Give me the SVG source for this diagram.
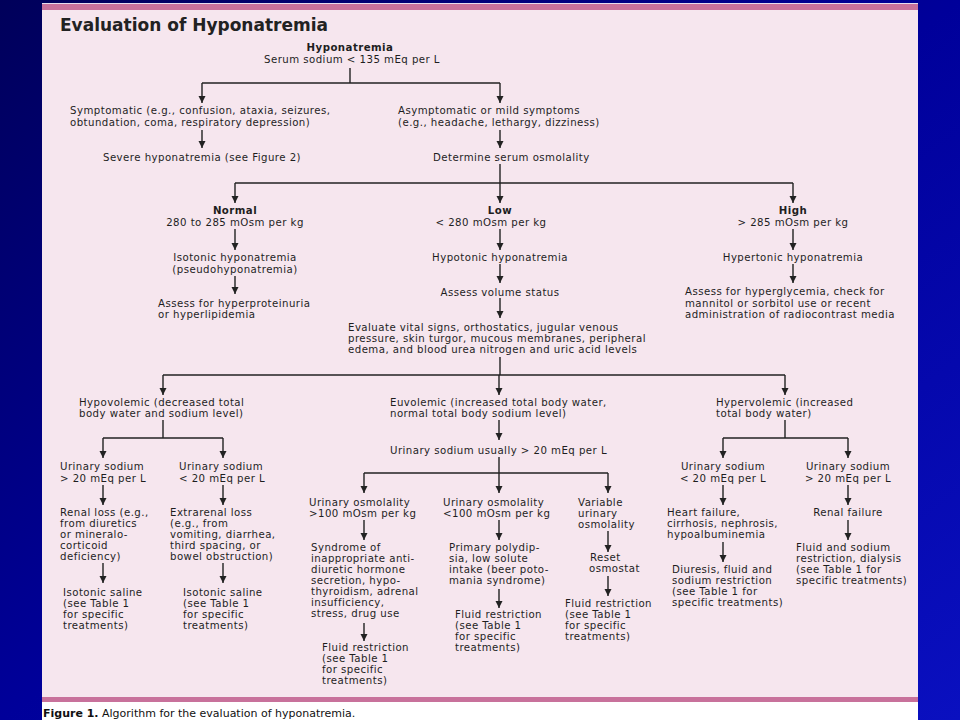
<svg xmlns="http://www.w3.org/2000/svg" width="960" height="720" viewBox="0 0 960 720">
<defs>
<linearGradient id="bg" x1="0" y1="0" x2="1" y2="1">
<stop offset="0" stop-color="#00005a"/>
<stop offset="0.5" stop-color="#00009a"/>
<stop offset="1" stop-color="#0a10c0"/>
</linearGradient>
<marker id="ah" markerUnits="userSpaceOnUse" markerWidth="8" markerHeight="8" refX="7" refY="4" orient="auto">
<path d="M0,0.5 L7,4 L0,7.5 z" fill="#222"/>
</marker>
<style>
text{font-family:"DejaVu Sans","Liberation Sans",sans-serif;font-size:10.2px;letter-spacing:0.45px;fill:#1e1e1e}
.b{font-weight:bold}
.c{text-anchor:middle}
.title{font-size:17px;font-weight:bold;letter-spacing:0;fill:#222}
.cap{font-size:11px;letter-spacing:0;fill:#111}
#connectors line{stroke:#222;stroke-width:1.4;fill:none}
.a{marker-end:url(#ah)}
</style>
</defs>
<rect x="0" y="0" width="960" height="720" fill="url(#bg)"/>
<rect x="42" y="3" width="876" height="700" fill="#f6e6ee"/>
<rect x="42" y="3" width="876" height="1" fill="#e6dcee"/>
<rect x="42" y="4" width="876" height="6" fill="#c8719b"/>
<rect x="42" y="697" width="876" height="5" fill="#c8719b"/>
<rect x="42" y="702" width="876" height="18" fill="#ffffff"/>

<text class="title" x="60" y="31">Evaluation of Hyponatremia</text>

<g id="connectors">
<line x1="350" y1="68" x2="350" y2="83"/>
<line x1="202" y1="83" x2="500" y2="83"/>
<line class="a" x1="202" y1="83" x2="202" y2="103"/>
<line class="a" x1="500" y1="83" x2="500" y2="103"/>
<line class="a" x1="202" y1="130" x2="202" y2="148"/>
<line class="a" x1="500" y1="130" x2="500" y2="148"/>
<line x1="500" y1="164" x2="500" y2="183"/>
<line x1="235" y1="183" x2="793" y2="183"/>
<line class="a" x1="235" y1="183" x2="235" y2="203"/>
<line class="a" x1="500" y1="183" x2="500" y2="203"/>
<line class="a" x1="793" y1="183" x2="793" y2="203"/>
<line class="a" x1="235" y1="229" x2="235" y2="250"/>
<line class="a" x1="235" y1="276" x2="235" y2="294"/>
<line class="a" x1="500" y1="229" x2="500" y2="250"/>
<line class="a" x1="500" y1="264" x2="500" y2="283"/>
<line class="a" x1="500" y1="298" x2="500" y2="318"/>
<line class="a" x1="793" y1="229" x2="793" y2="250"/>
<line class="a" x1="793" y1="264" x2="793" y2="283"/>
<line x1="500" y1="357" x2="500" y2="375"/>
<line x1="163" y1="375" x2="785" y2="375"/>
<line class="a" x1="163" y1="375" x2="163" y2="395"/>
<line class="a" x1="499" y1="375" x2="499" y2="395"/>
<line class="a" x1="785" y1="375" x2="785" y2="395"/>
<line x1="163" y1="420" x2="163" y2="438"/>
<line x1="103" y1="438" x2="223" y2="438"/>
<line class="a" x1="103" y1="438" x2="103" y2="458"/>
<line class="a" x1="223" y1="438" x2="223" y2="458"/>
<line class="a" x1="103" y1="485" x2="103" y2="505"/>
<line class="a" x1="223" y1="485" x2="223" y2="505"/>
<line class="a" x1="103" y1="563" x2="103" y2="583"/>
<line class="a" x1="223" y1="563" x2="223" y2="583"/>
<line class="a" x1="499" y1="420" x2="499" y2="440"/>
<line x1="499" y1="457" x2="499" y2="473"/>
<line x1="364" y1="473" x2="608" y2="473"/>
<line class="a" x1="364" y1="473" x2="364" y2="493"/>
<line class="a" x1="499" y1="473" x2="499" y2="493"/>
<line class="a" x1="608" y1="473" x2="608" y2="493"/>
<line class="a" x1="364" y1="520" x2="364" y2="540"/>
<line class="a" x1="499" y1="520" x2="499" y2="540"/>
<line class="a" x1="608" y1="531" x2="608" y2="552"/>
<line class="a" x1="364" y1="623" x2="364" y2="641"/>
<line class="a" x1="499" y1="589" x2="499" y2="608"/>
<line class="a" x1="608" y1="576" x2="608" y2="596"/>
<line x1="785" y1="420" x2="785" y2="438"/>
<line x1="723" y1="438" x2="848" y2="438"/>
<line class="a" x1="723" y1="438" x2="723" y2="458"/>
<line class="a" x1="848" y1="438" x2="848" y2="458"/>
<line class="a" x1="723" y1="485" x2="723" y2="505"/>
<line class="a" x1="848" y1="485" x2="848" y2="505"/>
<line class="a" x1="848" y1="520" x2="848" y2="540"/>
<line class="a" x1="723" y1="542" x2="723" y2="562"/>
</g>

<g id="hyponatremia"><text class="b c" x="350" y="51">Hyponatremia</text><text class="c" x="352" y="63">Serum sodium &lt; 135 mEq per L</text></g>
<g id="symptomatic"><text x="70" y="114">Symptomatic (e.g., confusion, ataxia, seizures,</text><text x="70" y="126">obtundation, coma, respiratory depression)</text></g>
<g id="severe"><text class="c" x="202" y="161">Severe hyponatremia (see Figure 2)</text></g>
<g id="asymptomatic"><text x="398" y="114">Asymptomatic or mild symptoms</text><text x="398" y="126">(e.g., headache, lethargy, dizziness)</text></g>
<g id="determine"><text x="433" y="161">Determine serum osmolality</text></g>

<g id="normal"><text class="b c" x="235" y="214">Normal</text><text class="c" x="235" y="226">280 to 285 mOsm per kg</text></g>
<g id="low"><text class="b c" x="500" y="214">Low</text><text class="c" x="491" y="226">&lt; 280 mOsm per kg</text></g>
<g id="high"><text class="b c" x="793" y="214">High</text><text class="c" x="793" y="226">&gt; 285 mOsm per kg</text></g>

<g id="isotonic"><text class="c" x="235" y="261">Isotonic hyponatremia</text><text class="c" x="235" y="273">(pseudohyponatremia)</text></g>
<g id="hypotonic"><text class="c" x="500" y="261">Hypotonic hyponatremia</text></g>
<g id="hypertonic"><text class="c" x="793" y="261">Hypertonic hyponatremia</text></g>

<g id="assess-protein"><text x="158" y="307">Assess for hyperproteinuria</text><text x="158" y="318">or hyperlipidemia</text></g>
<g id="assess-volume"><text class="c" x="500" y="296">Assess volume status</text></g>
<g id="assess-glycemia"><text x="685" y="295">Assess for hyperglycemia, check for</text><text x="685" y="307">mannitol or sorbitol use or recent</text><text x="685" y="318">administration of radiocontrast media</text></g>

<g id="evaluate"><text x="348" y="331">Evaluate vital signs, orthostatics, jugular venous</text><text x="348" y="342">pressure, skin turgor, mucous membranes, peripheral</text><text x="348" y="353">edema, and blood urea nitrogen and uric acid levels</text></g>

<g id="hypovolemic"><text x="79" y="406">Hypovolemic (decreased total</text><text x="79" y="417">body water and sodium level)</text></g>
<g id="euvolemic"><text x="390" y="406">Euvolemic (increased total body water,</text><text x="390" y="417">normal total body sodium level)</text></g>
<g id="hypervolemic"><text x="716" y="406">Hypervolemic (increased</text><text x="716" y="417">total body water)</text></g>

<g id="una-hypo-high"><text x="60" y="470">Urinary sodium</text><text x="60" y="482">&gt; 20 mEq per L</text></g>
<g id="una-hypo-low"><text x="179" y="470">Urinary sodium</text><text x="179" y="482">&lt; 20 mEq per L</text></g>
<g id="renal-loss"><text x="60" y="516">Renal loss (e.g.,</text><text x="60" y="527">from diuretics</text><text x="60" y="538">or mineralo-</text><text x="60" y="549">corticoid</text><text x="60" y="560">deficiency)</text></g>
<g id="extrarenal-loss"><text x="170" y="516">Extrarenal loss</text><text x="170" y="527">(e.g., from</text><text x="170" y="538">vomiting, diarrhea,</text><text x="170" y="549">third spacing, or</text><text x="170" y="560">bowel obstruction)</text></g>
<g id="saline-1"><text x="63" y="596">Isotonic saline</text><text x="63" y="607">(see Table 1</text><text x="63" y="618">for specific</text><text x="63" y="629">treatments)</text></g>
<g id="saline-2"><text x="183" y="596">Isotonic saline</text><text x="183" y="607">(see Table 1</text><text x="183" y="618">for specific</text><text x="183" y="629">treatments)</text></g>

<g id="una-euvolemic"><text x="390" y="454">Urinary sodium usually &gt; 20 mEq per L</text></g>
<g id="uosm-high"><text x="309" y="506">Urinary osmolality</text><text x="309" y="517">&gt;100 mOsm per kg</text></g>
<g id="uosm-low"><text x="443" y="506">Urinary osmolality</text><text x="443" y="517">&lt;100 mOsm per kg</text></g>
<g id="uosm-var"><text x="578" y="506">Variable</text><text x="578" y="517">urinary</text><text x="578" y="528">osmolality</text></g>
<g id="siadh"><text x="311" y="551">Syndrome of</text><text x="311" y="562">inappropriate anti-</text><text x="311" y="573">diuretic hormone</text><text x="311" y="584">secretion, hypo-</text><text x="311" y="595">thyroidism, adrenal</text><text x="311" y="606">insufficiency,</text><text x="311" y="617">stress, drug use</text></g>
<g id="polydipsia"><text x="449" y="551">Primary polydip-</text><text x="449" y="562">sia, low solute</text><text x="449" y="573">intake (beer poto-</text><text x="449" y="584">mania syndrome)</text></g>
<g id="reset"><text x="590" y="561">Reset</text><text x="589" y="572">osmostat</text></g>
<g id="fluid-1"><text x="322" y="651">Fluid restriction</text><text x="322" y="662">(see Table 1</text><text x="322" y="673">for specific</text><text x="322" y="684">treatments)</text></g>
<g id="fluid-2"><text x="455" y="618">Fluid restriction</text><text x="455" y="629">(see Table 1</text><text x="455" y="640">for specific</text><text x="455" y="651">treatments)</text></g>
<g id="fluid-3"><text x="565" y="607">Fluid restriction</text><text x="565" y="618">(see Table 1</text><text x="565" y="629">for specific</text><text x="565" y="640">treatments)</text></g>

<g id="una-hyper-low"><text class="c" x="723" y="470">Urinary sodium</text><text class="c" x="723" y="482">&lt; 20 mEq per L</text></g>
<g id="una-hyper-high"><text class="c" x="848" y="470">Urinary sodium</text><text class="c" x="848" y="482">&gt; 20 mEq per L</text></g>
<g id="heart-failure"><text x="667" y="516">Heart failure,</text><text x="667" y="527">cirrhosis, nephrosis,</text><text x="667" y="538">hypoalbuminemia</text></g>
<g id="renal-failure"><text class="c" x="848" y="516">Renal failure</text></g>
<g id="diuresis"><text x="672" y="573">Diuresis, fluid and</text><text x="672" y="584">sodium restriction</text><text x="672" y="595">(see Table 1 for</text><text x="672" y="606">specific treatments)</text></g>
<g id="dialysis"><text x="796" y="551">Fluid and sodium</text><text x="796" y="562">restriction, dialysis</text><text x="796" y="573">(see Table 1 for</text><text x="796" y="584">specific treatments)</text></g>

<text class="cap" x="43" y="717"><tspan font-weight="bold">Figure 1.</tspan> Algorithm for the evaluation of hyponatremia.</text>
</svg>
